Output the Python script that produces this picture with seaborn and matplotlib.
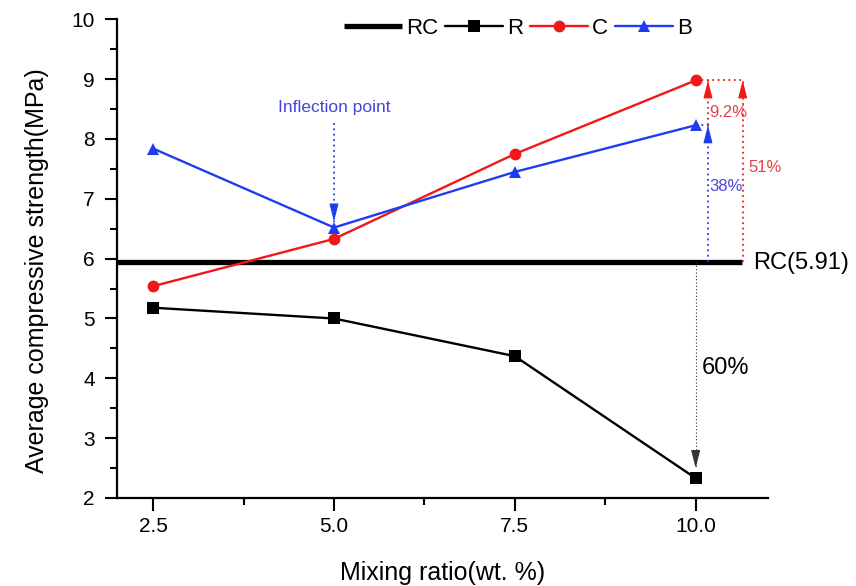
import matplotlib
matplotlib.use("Agg")
import matplotlib.pyplot as plt
import numpy as np
import pandas as pd
import seaborn as sns
from matplotlib.ticker import MultipleLocator, FixedLocator, FormatStrFormatter

# ---------------- data ----------------
mixing_ratio = [2.5, 5.0, 7.5, 10.0]
strength_R = [5.18, 5.00, 4.37, 2.33]
strength_C = [5.54, 6.33, 7.75, 8.98]
strength_B = [7.84, 6.52, 7.45, 8.23]
rc_value = 5.94
rc_label = "RC(5.91)"
series_names = ["RC", "R", "C", "B"]
pct_C_over_B = "9.2%"
pct_B_over_RC = "38%"
pct_C_over_RC = "51%"
pct_R_below_RC = "60%"
x_ticks = [2.5, 5.0, 7.5, 10.0]
y_ticks = [2, 3, 4, 5, 6, 7, 8, 9, 10]

# ---------------- style ----------------
sns.set_theme(style="ticks", rc={
    "axes.edgecolor": "black", "xtick.color": "black", "ytick.color": "black",
    "text.color": "black", "axes.labelcolor": "black",
})
plt.rcParams["font.family"] = ["Liberation Sans", "DejaVu Sans"]

RED = "#f01818"
BLUE = "#1f3cf0"
RED_T = "#e3414a"
BLUE_T = "#4646da"

fig = plt.figure(figsize=(8.56, 5.86), dpi=100)
ax = fig.add_axes([0.1367, 0.1502, 0.7605, 0.8168])

df = pd.DataFrame({
    "ratio": mixing_ratio * 3,
    "strength": strength_R + strength_C + strength_B,
    "series": ["R"] * 4 + ["C"] * 4 + ["B"] * 4,
})

# RC reference line
rc_handle, = ax.plot([2.0, 10.64], [rc_value, rc_value], color="black", lw=3.8,
                     solid_capstyle="butt", zorder=2)

styles = {"R": ("black", "s", 8.0), "C": (RED, "o", 8.5), "B": (BLUE, "^", 9.0)}
handles = [rc_handle]
for name in ["R", "C", "B"]:
    color, mk, ms = styles[name]
    sub = df[df["series"] == name]
    sns.lineplot(data=sub, x="ratio", y="strength", ax=ax, color=color,
                 marker=mk, markersize=ms, markeredgewidth=0, linewidth=1.7,
                 legend=False, zorder=3)
    handles.append(ax.lines[-1])

ax.set_xlim(2.0, 11.0)
ax.set_ylim(2.0, 10.0)
ax.xaxis.set_major_locator(FixedLocator(x_ticks))
ax.xaxis.set_major_formatter(FormatStrFormatter("%.1f"))
ax.xaxis.set_minor_locator(FixedLocator([3.75, 6.25, 8.75]))
ax.yaxis.set_major_locator(FixedLocator(y_ticks))
ax.yaxis.set_minor_locator(MultipleLocator(0.5))
sns.despine(ax=ax)
for s in ["left", "bottom"]:
    ax.spines[s].set_linewidth(1.6)
ax.tick_params(which="major", length=9, width=1.5, labelsize=15)
ax.tick_params(which="minor", length=5, width=1.5)
ax.tick_params(axis="y", which="major", pad=7)
ax.tick_params(axis="x", which="major", pad=5)

ax.set_xlabel("Mixing ratio(wt. %)", fontsize=18)
ax.set_ylabel("Average compressive strength(MPa)", fontsize=18)
ax.xaxis.set_label_coords(0.50, -0.132)
ax.yaxis.set_label_coords(-0.104, 0.475)

# legend
fig.legend(handles, series_names, loc="center", bbox_to_anchor=(0.605, 0.952),
           ncol=4, frameon=False, fontsize=16, handlelength=2.6,
           handletextpad=0.2, columnspacing=0.3, borderaxespad=0)

DOT = (0, (1, 2))


def dotted_arrow(x, y0, y1, color, lw=1.3, head=0.2):
    """Dotted vertical line from y0 to y1 with a solid arrow head at y1."""
    ax.plot([x, x], [y0, y1], color=color, lw=lw, ls=DOT, zorder=4)
    sgn = 1 if y1 > y0 else -1
    ax.annotate("", xy=(x, y1), xytext=(x, y1 - sgn * head),
                arrowprops=dict(arrowstyle="-|>,head_length=1.1,head_width=0.28",
                                color=color, lw=0.8, shrinkA=0, shrinkB=0,
                                mutation_scale=10),
                annotation_clip=False, zorder=5)


x_end = mixing_ratio[-1]
c_end, b_end, r_end = strength_C[-1], strength_B[-1], strength_R[-1]
x_short = x_end + 0.17
x_long = x_end + 0.65

# inflection point
ax.text(mixing_ratio[1], 8.53, "Inflection point", color=BLUE_T, fontsize=12.5,
        ha="center", va="center")
dotted_arrow(mixing_ratio[1], 8.27, strength_B[1] + 0.1, BLUE)

# horizontal guide lines
ax.plot([x_end, x_long], [c_end, c_end], color=RED, lw=1.3, ls=DOT)
ax.plot([x_end, x_short], [b_end, b_end], color=BLUE, lw=1.3, ls=DOT)

# vertical arrows
dotted_arrow(x_short, b_end, c_end, RED)
dotted_arrow(x_short, rc_value, b_end, BLUE)
dotted_arrow(x_long, rc_value, c_end, RED)
dotted_arrow(x_end, rc_value, r_end + 0.17, "#333333", lw=0.8)

ax.text(x_short + 0.02, 8.44, pct_C_over_B, color=RED_T, fontsize=12, va="center")
ax.text(x_short + 0.02, 7.20, pct_B_over_RC, color=BLUE_T, fontsize=12, va="center")
ax.text(x_long + 0.08, 7.53, pct_C_over_RC, color=RED_T, fontsize=12, va="center")
ax.text(x_end + 0.08, 4.18, pct_R_below_RC, color="black", fontsize=17, va="center")
ax.text(10.79, rc_value - 0.02, rc_label, color="black", fontsize=17, va="center",
        clip_on=False)

fig.savefig("out.png", dpi=100)
